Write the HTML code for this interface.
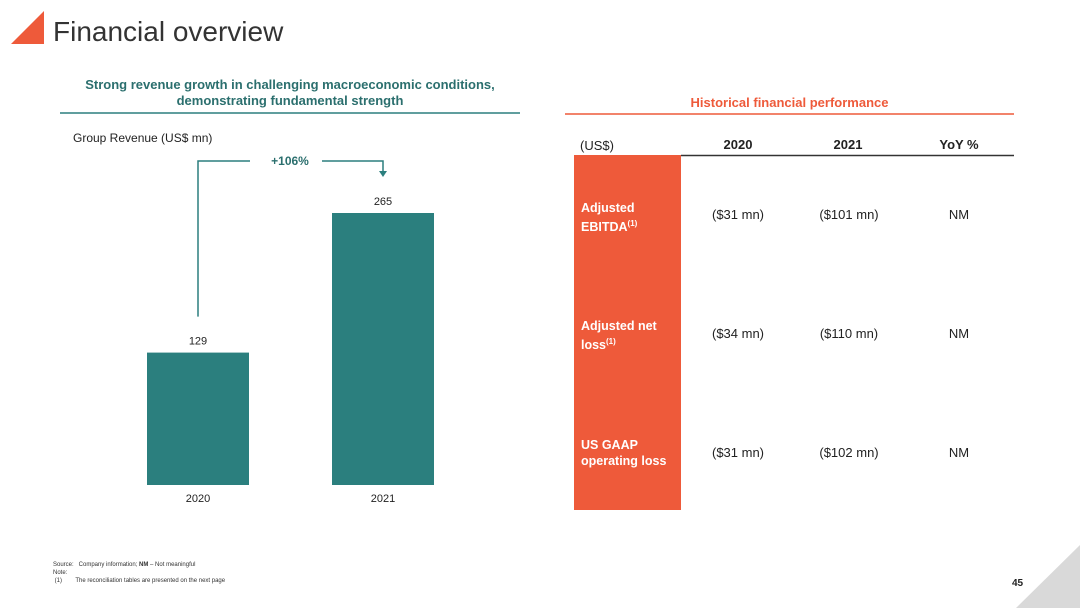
<!DOCTYPE html>
<html><head><meta charset="utf-8"><style>
body{margin:0;width:1080px;height:608px;background:#fff;position:relative;overflow:hidden;font-family:"Liberation Sans",Arial,sans-serif}
.a{position:absolute}
.t{color:#222;font-size:13px}
</style></head><body>
<svg class="a" style="left:0;top:0" width="1080" height="608">
<polygon points="11,44 44,11 44,44" fill="#ee5a3a"/>
<polygon points="1080,545 1080,608 1016,608" fill="#d9d9d9"/>
<line x1="60" y1="113" x2="520" y2="113" stroke="#2b7f7e" stroke-width="1.5"/>
<line x1="565" y1="114" x2="1014" y2="114" stroke="#ee5a3a" stroke-width="1.5"/>
<line x1="681" y1="155.5" x2="1014" y2="155.5" stroke="#333" stroke-width="1.5"/>
<rect x="574" y="155" width="107" height="355" fill="#ee5a3a"/>
</svg>
<div class="a" style="left:53px;top:16px;font-size:28px;color:#333">Financial overview</div>
<div class="a" style="left:60px;top:77px;width:460px;text-align:center;font-size:13px;font-weight:bold;color:#2b6f6e;line-height:16px">Strong revenue growth in challenging macroeconomic conditions,<br>demonstrating fundamental strength</div>
<div class="a" style="left:565px;top:95px;width:449px;text-align:center;font-size:13px;font-weight:bold;color:#ee5a3a">Historical financial performance</div>
<div class="a" style="left:73px;top:131px;font-size:12px;color:#222">Group Revenue (US$ mn)</div>
<svg id="chart" class="a" style="left:0;top:0" width="560" height="530"></svg>
<div class="a t" style="left:580px;top:138px">(US$)</div>
<div class="a t" style="left:698px;top:137px;width:80px;text-align:center;font-weight:bold">2020</div>
<div class="a t" style="left:808px;top:137px;width:80px;text-align:center;font-weight:bold">2021</div>
<div class="a t" style="left:919px;top:137px;width:80px;text-align:center;font-weight:bold">YoY %</div>
<div class="a" style="left:581px;top:200px;color:#fff;font-weight:bold;font-size:12.5px;line-height:16px">Adjusted<br>EBITDA<sup style="font-size:8px">(1)</sup></div>
<div class="a" style="left:581px;top:318px;color:#fff;font-weight:bold;font-size:12.5px;line-height:16px">Adjusted net<br>loss<sup style="font-size:8px">(1)</sup></div>
<div class="a" style="left:581px;top:437px;color:#fff;font-weight:bold;font-size:12.5px;line-height:16px">US GAAP<br>operating loss</div>
<div id="cells"></div>
<div class="a" style="left:53px;top:561px;font-size:6px;color:#333;line-height:8px">Source:&nbsp;&nbsp;&nbsp;Company information; <b>NM</b> – Not meaningful<br>Note:<br>&nbsp;(1)&nbsp;&nbsp;&nbsp;&nbsp;&nbsp;&nbsp;&nbsp;&nbsp;The reconciliation tables are presented on the next page</div>
<div class="a" style="left:1012px;top:578px;font-size:10px;font-weight:bold;color:#222">45</div>
<script>
const years=["2020","2021"];
const revenue=[129,265];
const growthLabel=["+106%"];
const rows=[["($31 mn)","($101 mn)","NM"],["($34 mn)","($110 mn)","NM"],["($31 mn)","($102 mn)","NM"]];
const NS="http://www.w3.org/2000/svg";
const svg=document.getElementById('chart');
const base=485,k=272/265,xs=[147,332],bw=102;
const yPos=v=>base-v*k;
function mk(t,a){const e=document.createElementNS(NS,t);for(const n in a)e.setAttribute(n,a[n]);svg.appendChild(e);return e;}
years.forEach((yr,i)=>{
 const r=mk('rect',{x:xs[i],y:yPos(revenue[i]),width:bw,height:revenue[i]*k,fill:'#2b7f7e'});
 
 
 const v=mk('text',{x:xs[i]+bw/2,y:yPos(revenue[i])-8,'text-anchor':'middle','font-size':11,fill:'#222'});v.textContent=revenue[i];
 
 
 const l=mk('text',{x:xs[i]+bw/2,y:502,'text-anchor':'middle','font-size':11,fill:'#222'});l.textContent=yr;
 
 
});
const c0=xs[0]+bw/2,c1=xs[1]+bw/2,topY=161;
mk('polyline',{points:`${c0},${yPos(revenue[0])-36} ${c0},${topY} 250,${topY}`,fill:'none',stroke:'#2b7f7e','stroke-width':1.5});
mk('polyline',{points:`322,${topY} ${c1},${topY} ${c1},${topY+11}`,fill:'none',stroke:'#2b7f7e','stroke-width':1.5});
mk('polygon',{points:`${c1-4},${topY+10} ${c1+4},${topY+10} ${c1},${topY+16}`,fill:'#2b7f7e'});
const g=mk('text',{x:290,y:topY+4,'text-anchor':'middle','font-size':12,'font-weight':'bold',fill:'#2b6f6e'});
g.textContent=growthLabel[0];


const cells=document.getElementById('cells');
const cx=[738,849,959],ry=[215,334,453];
rows.forEach((r,i)=>r.forEach((v,j)=>{
 const d=document.createElement('div');d.className='a t';
 d.style.cssText=`left:${cx[j]-60}px;top:${ry[i]-8}px;width:120px;text-align:center`;
 d.textContent=v;
 
 
 cells.appendChild(d);
}));
</script>
</body></html>
